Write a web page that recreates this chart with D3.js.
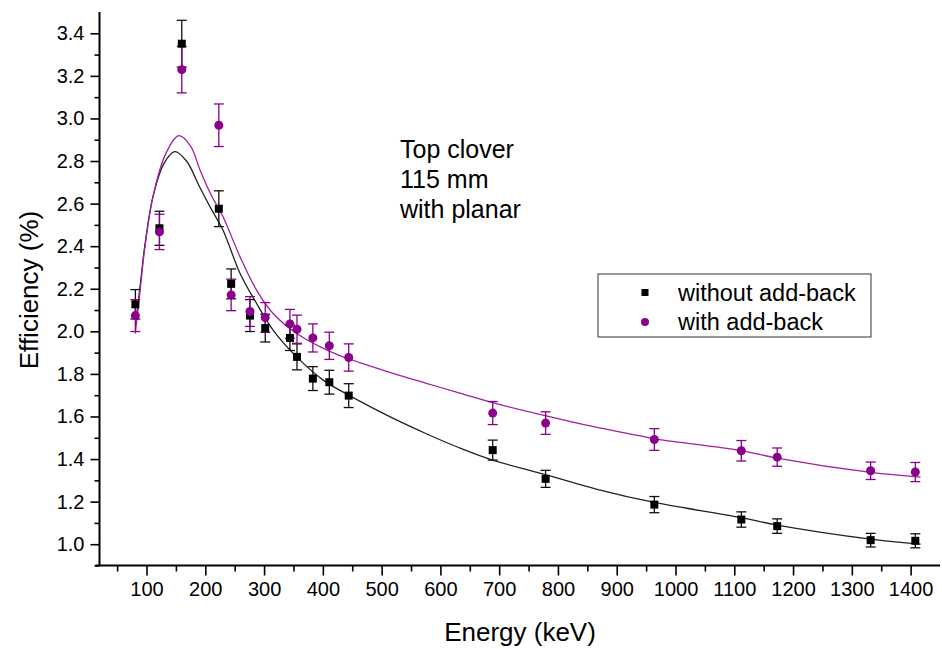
<!DOCTYPE html>
<html>
<head>
<meta charset="utf-8">
<script src="https://cdn.jsdelivr.net/npm/d3@7/dist/d3.min.js"></script>
<style>
  body { margin: 0; background: #fff; }
  svg { display: block; font-family: "Liberation Sans", Arial, sans-serif; }
</style>
</head>
<body>
<svg id="chart" width="942" height="649"></svg>
<script>
// ---- data ----
const energies = [81, 122, 160, 223, 244, 276, 302, 344, 356, 383, 411, 444, 689, 779, 964, 1112, 1173, 1332, 1408];
const effNoAddback = [2.127, 2.484, 3.351, 2.576, 2.223, 2.074, 2.015, 1.969, 1.880, 1.778, 1.761, 1.698, 1.442, 1.307, 1.186, 1.116, 1.085, 1.019, 1.016];
const errNoAddback = [0.069, 0.080, 0.110, 0.084, 0.070, 0.075, 0.065, 0.059, 0.061, 0.056, 0.056, 0.056, 0.047, 0.040, 0.038, 0.036, 0.034, 0.032, 0.033];
const effAddback = [2.074, 2.467, 3.229, 2.968, 2.171, 2.093, 2.065, 2.035, 2.010, 1.969, 1.932, 1.877, 1.616, 1.569, 1.492, 1.439, 1.409, 1.345, 1.339];
const errAddback = [0.075, 0.083, 0.109, 0.100, 0.074, 0.070, 0.070, 0.068, 0.066, 0.066, 0.064, 0.064, 0.054, 0.053, 0.051, 0.048, 0.043, 0.041, 0.045];

// fitted curves
const fitNoAddbackE = [81, 89, 97, 111, 130, 148, 168, 190, 210, 230, 259, 287, 315, 355, 400, 444, 519, 576, 633, 689, 780, 865, 964, 1112, 1173, 1332, 1417];
const fitNoAddbackY = [2.03, 2.21, 2.40, 2.633, 2.79, 2.844, 2.80, 2.68, 2.575, 2.476, 2.273, 2.132, 2.007, 1.881, 1.772, 1.700, 1.592, 1.519, 1.452, 1.395, 1.326, 1.259, 1.196, 1.125, 1.090, 1.024, 1.000];
const fitAddbackE = [81, 89, 97, 111, 132, 155, 175, 191, 210, 230, 259, 287, 315, 355, 400, 429, 463, 519, 576, 633, 689, 780, 859, 938, 964, 1112, 1173, 1332, 1417];
const fitAddbackY = [1.99, 2.19, 2.39, 2.633, 2.83, 2.919, 2.87, 2.758, 2.64, 2.539, 2.351, 2.195, 2.085, 1.991, 1.921, 1.886, 1.853, 1.803, 1.756, 1.710, 1.665, 1.603, 1.553, 1.510, 1.495, 1.440, 1.404, 1.337, 1.315];

const xTicks = [100, 200, 300, 400, 500, 600, 700, 800, 900, 1000, 1100, 1200, 1300, 1400];
const yTicks = [1.0, 1.2, 1.4, 1.6, 1.8, 2.0, 2.2, 2.4, 2.6, 2.8, 3.0, 3.2, 3.4];
const annotation = ["Top clover", "115 mm", "with planar"];
const legendLabels = ["without add-back", "with add-back"];

// ---- layout ----
const svg = d3.select("#chart");
const mLeft = 99.5, mRight = 940, mTop = 12, mBottom = 565.5;
const BLACK = "#000000", PURPLE = "#8b008b";

const x = d3.scaleLinear().domain([20, 1450]).range([mLeft, mRight]);
const y = d3.scaleLinear().domain([0.9, 3.5]).range([mBottom, mTop]);

// axes
const xMinor = d3.range(50, 1450, 100);
const yMinor = d3.range(0.9, 3.5, 0.2).map(v => +v.toFixed(2));

svg.append("g").attr("transform", `translate(0,${mBottom})`)
  .call(d3.axisBottom(x).tickValues(xTicks).tickSize(10).tickPadding(6).tickFormat(d3.format("d")));
svg.append("g").attr("transform", `translate(0,${mBottom})`)
  .call(d3.axisBottom(x).tickValues(xMinor).tickSize(6).tickFormat(""));
svg.append("g").attr("transform", `translate(${mLeft},0)`)
  .call(d3.axisLeft(y).tickValues(yTicks).tickSize(9).tickPadding(6).tickFormat(d3.format(".1f")));
svg.append("g").attr("transform", `translate(${mLeft},0)`)
  .call(d3.axisLeft(y).tickValues(yMinor).tickSize(5).tickFormat(""));

svg.selectAll(".domain").remove();
svg.selectAll(".tick line").attr("stroke", "#000").attr("stroke-width", 1.6);
svg.selectAll(".tick text").attr("fill", "#000").style("font-size", "20px")
  .style("font-family", "'Liberation Sans', Arial, sans-serif");
// axis lines
svg.append("line").attr("x1", mLeft - 4).attr("x2", mRight).attr("y1", mBottom).attr("y2", mBottom)
  .attr("stroke", "#000").attr("stroke-width", 2);
svg.append("line").attr("x1", mLeft).attr("x2", mLeft).attr("y1", mTop).attr("y2", mBottom)
  .attr("stroke", "#000").attr("stroke-width", 2);

// axis titles
svg.append("text").attr("x", 520).attr("y", 641).attr("text-anchor", "middle")
  .style("font-size", "26px").text("Energy (keV)");
svg.append("text").attr("transform", "translate(38,290) rotate(-90)").attr("text-anchor", "middle")
  .style("font-size", "26px").text("Efficiency (%)");

// curves
const line = d3.line().x(d => x(d[0])).y(d => y(d[1])).curve(d3.curveCatmullRom.alpha(0.5));
svg.append("path").datum(fitNoAddbackE.map((e, i) => [e, fitNoAddbackY[i]]))
  .attr("d", line).attr("fill", "none").attr("stroke", "#222").attr("stroke-width", 1.3);
svg.append("path").datum(fitAddbackE.map((e, i) => [e, fitAddbackY[i]]))
  .attr("d", line).attr("fill", "none").attr("stroke", "#a020a0").attr("stroke-width", 1.3);

// error bars + markers
function errorBars(vals, errs, color) {
  const g = svg.append("g").attr("stroke", color).attr("stroke-width", 1.3);
  energies.forEach((e, i) => {
    const cx = x(e), y1 = y(vals[i] + errs[i]), y2 = y(vals[i] - errs[i]);
    g.append("line").attr("x1", cx).attr("x2", cx).attr("y1", y1).attr("y2", y2);
    g.append("line").attr("x1", cx - 5).attr("x2", cx + 5).attr("y1", y1).attr("y2", y1);
    g.append("line").attr("x1", cx - 5).attr("x2", cx + 5).attr("y1", y2).attr("y2", y2);
  });
}
errorBars(effNoAddback, errNoAddback, "#111");
errorBars(effAddback, errAddback, PURPLE);

svg.append("g").selectAll("rect").data(energies).join("rect")
  .attr("x", (d) => x(d) - 4).attr("y", (d, i) => y(effNoAddback[i]) - 4)
  .attr("width", 8).attr("height", 8).attr("fill", BLACK);
svg.append("g").selectAll("circle").data(energies).join("circle")
  .attr("cx", d => x(d)).attr("cy", (d, i) => y(effAddback[i])).attr("r", 4.5).attr("fill", PURPLE);

// annotation
svg.append("g").selectAll("text").data(annotation).join("text")
  .attr("x", 400).attr("y", (d, i) => 158 + i * 30)
  .style("font-size", "25px").attr("fill", "#000").text(d => d);

// legend
const lg = svg.append("g");
lg.append("rect").attr("x", 598).attr("y", 274).attr("width", 273).attr("height", 63)
  .attr("fill", "#fff").attr("stroke", "#333").attr("stroke-width", 1);
lg.append("rect").attr("x", 641.5).attr("y", 289).attr("width", 7).attr("height", 7).attr("fill", BLACK);
lg.append("circle").attr("cx", 645).attr("cy", 322).attr("r", 4).attr("fill", PURPLE);
lg.selectAll("text.l").data(legendLabels).join("text").attr("class", "l")
  .attr("x", 678).attr("y", (d, i) => 300.5 + i * 29.5)
  .style("font-size", "23.5px").attr("fill", "#000").text(d => d);
</script>
</body>
</html>
